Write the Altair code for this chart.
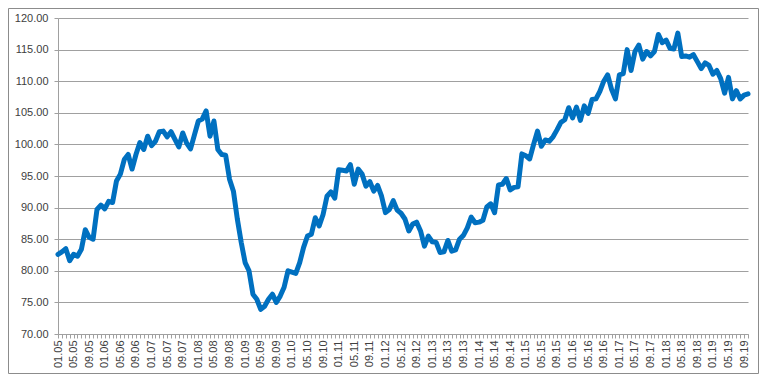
import json
import altair as alt
import pandas as pd

# Monthly index values, 01.05 .. 10.19 (178 months)
values = [
    82.6, 83.0, 83.5, 81.6, 82.6, 82.3, 83.4, 86.5, 85.3, 85.0, 89.7, 90.4,
    89.8, 91.0, 90.8, 94.2, 95.3, 97.6, 98.4, 96.1, 98.4, 100.3, 99.2, 101.3,
    99.8, 100.5, 102.0, 102.1, 101.2, 102.0, 100.8, 99.6, 101.8, 100.2, 99.3, 101.5,
    103.7, 104.0, 105.3, 101.3, 103.7, 99.2, 98.4, 98.3, 94.5, 92.6, 88.2, 84.5,
    81.3, 80.0, 76.3, 75.5, 73.9, 74.4, 75.5, 76.3, 75.0, 76.0, 77.4, 80.0,
    79.8, 79.6, 81.3, 83.7, 85.5, 85.8, 88.4, 87.1, 88.9, 91.8, 92.5, 91.5,
    96.0, 95.9, 95.8, 96.8, 93.7, 96.1, 95.3, 93.4, 94.1, 92.6, 93.5, 91.8,
    89.2, 89.7, 91.1, 89.6, 89.1, 88.2, 86.3, 87.4, 87.7, 86.3, 83.9, 85.5,
    84.6, 84.5, 82.9, 83.0, 84.8, 83.1, 83.3, 85.0, 85.6, 86.8, 88.5, 87.6,
    87.7, 88.0, 90.1, 90.6, 89.2, 93.6, 93.7, 94.6, 92.8, 93.2, 93.3, 98.5,
    98.2, 97.7, 100.0, 102.1, 99.7, 100.7, 100.5, 101.2, 102.3, 103.5, 103.9, 105.8,
    104.2, 105.9, 103.8, 106.1, 104.9, 107.1, 107.2, 108.4, 110.0, 111.0, 108.7, 107.2,
    111.0, 111.2, 115.0, 111.7, 114.7, 115.7, 113.5, 114.7, 114.0, 114.7, 117.4, 116.1,
    116.5, 115.2, 115.1, 117.6, 113.9, 114.0, 113.8, 114.2, 113.1, 112.0, 112.9, 112.5,
    111.1, 111.7, 110.4, 108.1, 110.6, 107.2, 108.5, 107.2, 107.8, 108.0,
]

years = list(range(5, 20))
months = list(range(1, 13))
categories = [f"{m:02d}.{y:02d}" for y in years for m in months][: len(values)]
y_ticks = [70, 75, 80, 85, 90, 95, 100, 105, 110, 115, 120]

df = pd.DataFrame({"idx": list(range(len(values))), "label": categories, "value": values})

W, H = 690, 316
PAD = {"left": 50, "top": 10, "right": 11, "bottom": 40}
GRID = "#A0A0A0"
TEXT = "#404040"
FONT = "Liberation Sans"

shown = [c if i % 4 == 0 else "" for i, c in enumerate(categories)]
label_expr = json.dumps(shown) + "[datum.value]"

line = alt.Chart(df).mark_line(
    color="#0070C0", strokeWidth=5, strokeJoin="round", strokeCap="round"
).encode(
    x=alt.X(
        "idx:Q",
        scale=alt.Scale(domain=[0, len(values) - 1], nice=False, zero=False),
        axis=alt.Axis(
            title=None,
            values=list(range(len(values))),
            labelExpr=label_expr,
            labelAngle=270,
            labelOverlap=False,
            labelFlush=False,
            labelBound=False,
            labelFont=FONT,
            labelFontSize=11,
            labelColor=TEXT,
            labelPadding=2,
            tickSize=4,
            tickColor=GRID,
            domainColor=GRID,
            grid=False,
        ),
    ),
    y=alt.Y(
        "value:Q",
        scale=alt.Scale(domain=[70, 120], nice=False, zero=False),
        axis=alt.Axis(
            title=None,
            values=y_ticks,
            format=".2f",
            labelFont=FONT,
            labelFontSize=11,
            labelColor=TEXT,
            labelPadding=6,
            tickSize=4,
            tickColor=GRID,
            domainColor=GRID,
            gridColor=GRID,
            grid=True,
        ),
    ),
)

frame = alt.Chart(pd.DataFrame({"a": [0]})).mark_rect(
    fillOpacity=0, stroke="#8C8C8C", strokeWidth=1
).encode(
    x=alt.value(-PAD["left"] + 0.5),
    x2=alt.value(W + PAD["right"] - 0.5),
    y=alt.value(-PAD["top"] + 0.5),
    y2=alt.value(H + PAD["bottom"] - 0.5),
)

chart = alt.layer(frame, line).properties(
    width=W,
    height=H,
    padding=PAD,
    autosize=alt.AutoSizeParams(type="none"),
    background="white",
).configure_view(stroke=None)

chart.save("out.html", embed_options={"renderer": "svg", "actions": False})
